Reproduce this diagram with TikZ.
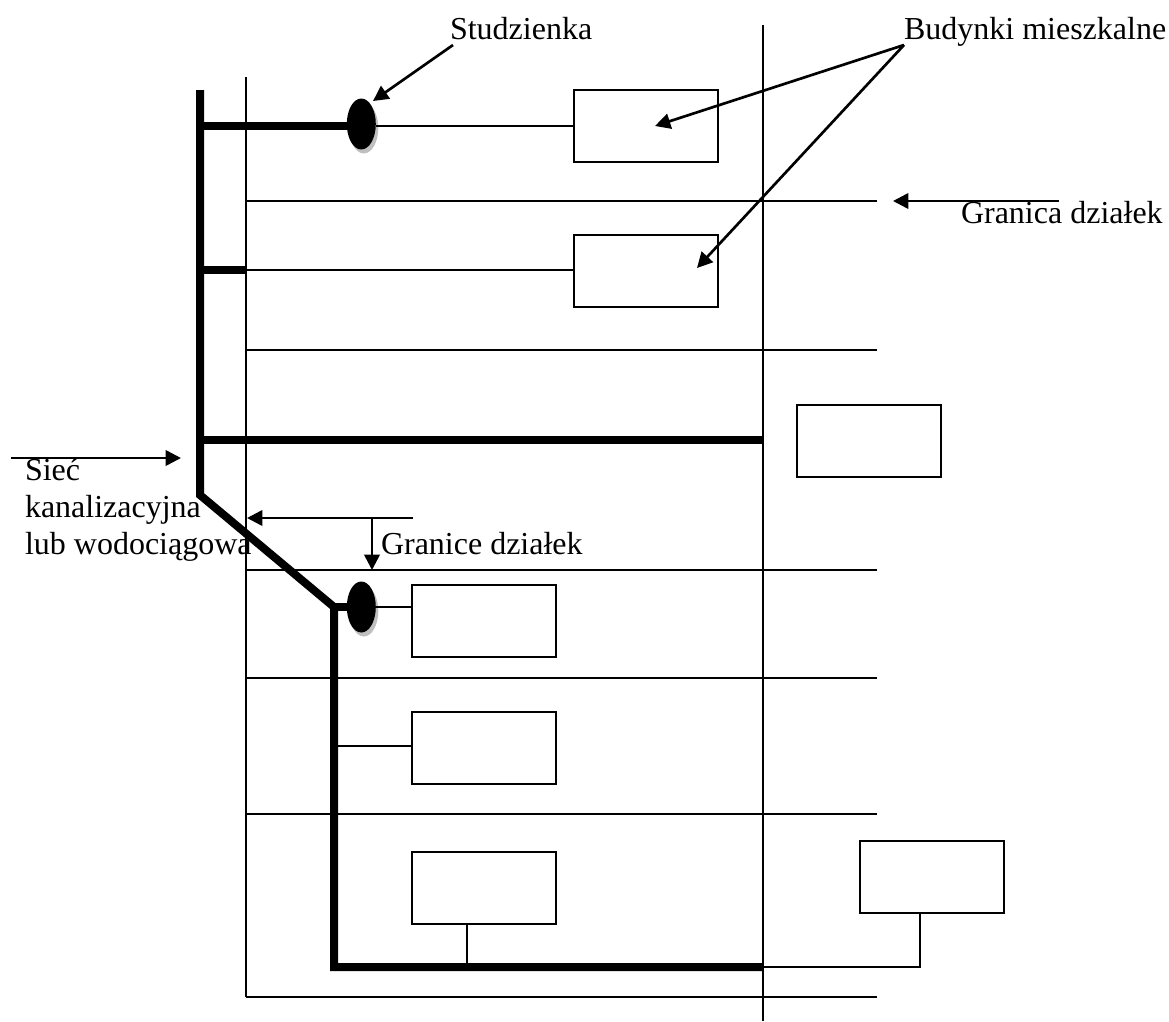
\documentclass[tikz,border=0pt]{standalone}
\usepackage{fontspec}
\setmainfont{Liberation Serif}
\usetikzlibrary{arrows.meta,shapes.geometric}
\tikzset{
  px/.style={x=0.75pt,y=-0.75pt},
  thin line/.style={draw=black,line width=1.5pt},
  thick line/.style={draw=black,line width=6pt,line cap=butt,line join=miter},
  house/.style={draw=black,fill=white,line width=1.5pt,minimum width=108pt,minimum height=54pt,inner sep=0pt,outer sep=0pt},
  well/.style={ellipse,fill=black,minimum width=21.75pt,minimum height=38.25pt,inner sep=0pt,outer sep=0pt},
  wellshadow/.style={ellipse,fill=black!25,minimum width=21.75pt,minimum height=38.25pt,inner sep=0pt,outer sep=0pt},
  pointer/.style={draw=black,line width=2pt,-{Triangle[length=11.5pt,width=11.5pt]}},
  label/.style={anchor=base west,inner sep=0pt,outer sep=0pt,font=\fontsize{24}{27.4}\selectfont,align=left},
}
\begin{document}
\begin{tikzpicture}[px]
\useasboundingbox (0,0) rectangle (1169,1021);
% plot boundaries
\coordinate (vLtop) at (246,77); \coordinate (vLbot) at (246,997);
\coordinate (vRtop) at (763,25); \coordinate (vRbot) at (763,1021);
\draw[thin line] (vLtop) -- (vLbot);
\draw[thin line] (vRtop) -- (vRbot);
\foreach \n/\y in {a/201,b/350,c/570,d/678,e/814,f/997}{
  \coordinate (h\n) at (246,\y);
  \coordinate (k\n) at (877,\y);
  \draw[thin line] (h\n) -- (k\n);
}
% buildings
\node[house] (b1) at (646,126) {};
\node[house] (b2) at (646,271) {};
\node[house] (b3) at (869,441) {};
\node[house] (b4) at (484,621) {};
\node[house] (b5) at (484,748) {};
\node[house] (b6) at (484,888) {};
\node[house] (b7) at (932,877) {};
% wells
\node[wellshadow] at (363.8,128) {};
\node[well] (w1) at (361.3,124) {};
\node[wellshadow] at (363.8,611) {};
\node[well] (w2) at (361.3,607) {};
% network
\coordinate (m0) at (200,90);
\coordinate (m1) at (200,495);
\coordinate (m2) at (334,607);
\coordinate (m3) at (334,967);
\coordinate (j1) at (200,126);
\coordinate (j2) at (200,270);
\coordinate (j2e) at (246,270);
\coordinate (j3) at (200,440);
\coordinate (j3e) at (763,440);
\coordinate (j4) at (763,967);
\coordinate (w1in) at (350,126);
\draw[thick line] (m0) -- (m1) -- (m2) -- (m3) -- (j4);
\draw[thick line] (j1) -- (w1in);
\draw[thick line] (j2) -- (j2e);
\draw[thick line] (j3) -- (j3e);
\draw[thick line] (m2) -- (w2.center);
% service connections
\coordinate (s1) at (376,126);
\draw[thin line] (s1) -- (s1-|b1.west);
\draw[thin line] (j2e) -- (j2e-|b2.west);
\draw[thin line] (w2.east) -- (w2.east-|b4.west);
\coordinate (s5) at (337,746);
\draw[thin line] (s5) -- (s5-|b5.west);
\coordinate (s6) at (467,967);
\draw[thin line] (s6) -- (s6|-b6.south);
\coordinate (s7) at (920,967);
\draw[thin line] (j4) -- (s7) -- (s7|-b7.south);
% labels
\node[label] (t1) at (450,39) {Studzienka};
\node[label] (t2) at (904,39) {Budynki mieszkalne};
\node[label] (t3) at (961,223) {Granica działek};
\node[label] (t4) at (25,554) {Sieć\\kanalizacyjna\\lub wodociągowa};
\node[label] (t5) at (381,554) {Granice działek};
% pointers
\coordinate (p1) at (453,45); \coordinate (p1e) at (373,101);
\draw[pointer] (p1) -- (p1e);
\coordinate (p2) at (904,45); \coordinate (p2a) at (655,126); \coordinate (p2b) at (697,268);
\draw[pointer] (p2) -- (p2a);
\draw[pointer] (p2) -- (p2b);
\coordinate (p3) at (1059,201); \coordinate (p3e) at (893,201);
\draw[pointer] (p3) -- (p3e);
\coordinate (p4) at (11,458); \coordinate (p4e) at (181,458);
\draw[pointer] (p4) -- (p4e);
\coordinate (p5) at (413,518); \coordinate (p5e) at (247,518);
\draw[pointer] (p5) -- (p5e);
\coordinate (p6) at (372,518); \coordinate (p6e) at (372,570);
\draw[pointer] (p6) -- (p6e);
\end{tikzpicture}
\end{document}
